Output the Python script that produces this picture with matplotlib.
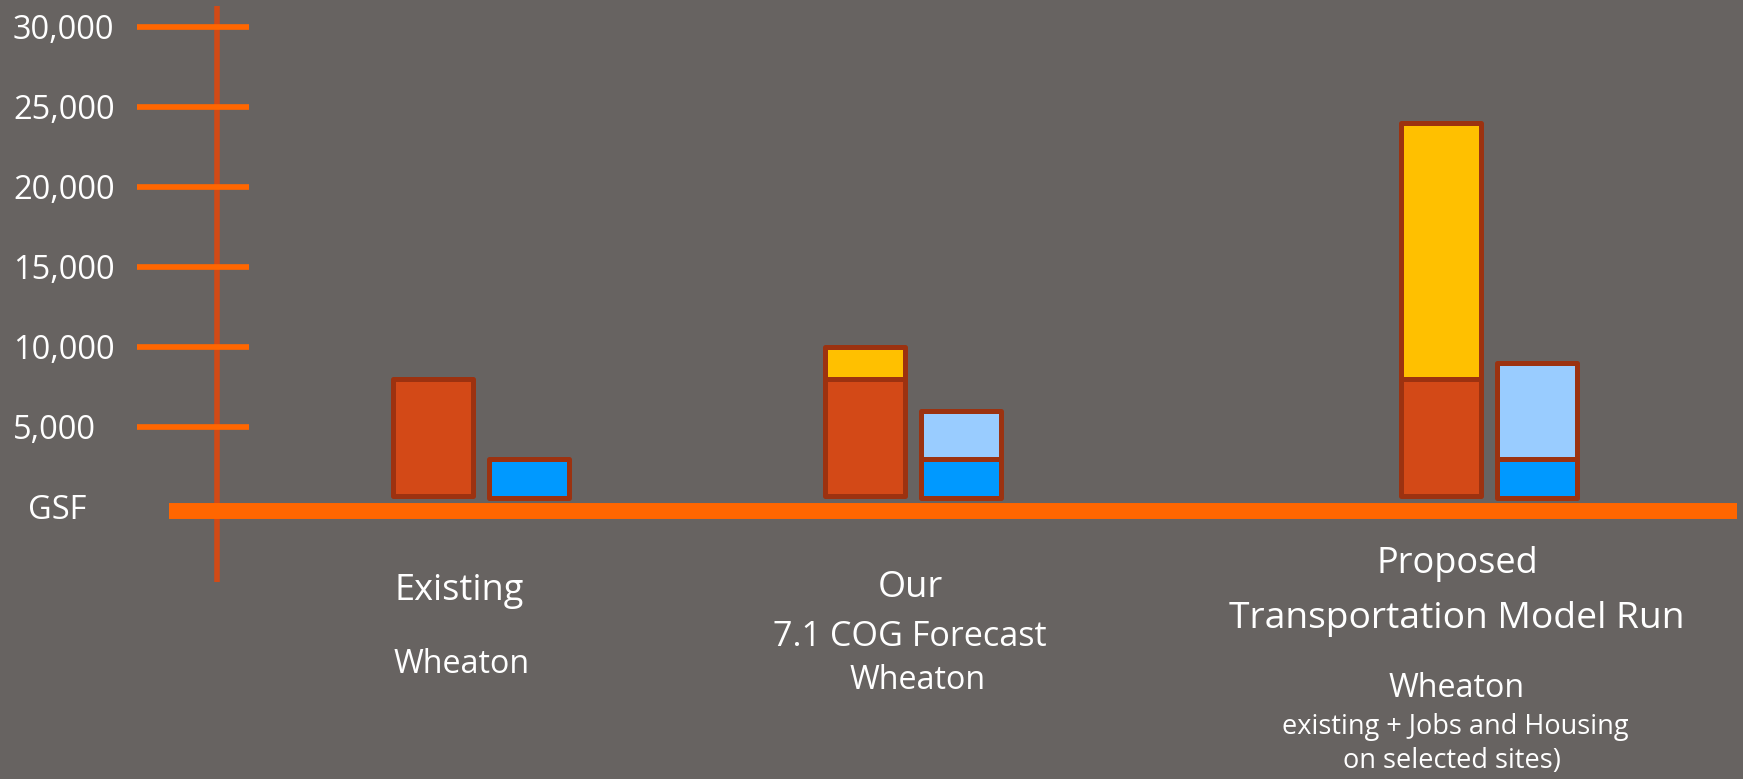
import matplotlib
matplotlib.use("Agg")
import matplotlib.pyplot as plt
from matplotlib.transforms import offset_copy

# ── Data ──────────────────────────────────────────────────────────────────────
group_pos = [0, 3, 7]                       # Existing, Our 7.1 COG, Proposed
jobs_existing = [8000, 8000, 8000]          # orange
jobs_total = [8000, 10000, 24000]           # top of yellow segment
housing_existing = [3000, 3000, 3000]       # blue
housing_total = [3000, 6000, 9000]          # top of light blue segment
bar_floor = [700, 580]                      # jobs / housing bars start just above the GSF line

y_ticks = [5000, 10000, 15000, 20000, 25000, 30000]
y_tick_labels = ["5,000", "10,000", "15,000", "20,000", "25,000", "30,000"]

# label lines: (text, x px, baseline px, size, align)
labels = [
    ("Existing", 394, 600, 26, "left"),
    ("Wheaton", 394, 673, 23.2, "left"),
    ("Our", 910, 597, 26, "center"),
    ("7.1 COG Forecast", 910, 646, 24.6, "center"),
    ("Wheaton", 918, 689, 23.2, "center"),
    ("Proposed", 1457, 573, 26, "center"),
    ("Transportation Model Run", 1457, 628, 26.8, "center"),
    ("Wheaton", 1457, 697, 23.2, "center"),
    ("existing + Jobs and Housing", 1455, 734, 19.5, "center"),
    ("on selected sites)", 1452, 768, 19.5, "center"),
]

# ── Style ─────────────────────────────────────────────────────────────────────
W, H = 1743, 779
BG = "#676361"
ORANGE = "#d34917"
YELLOW = "#ffc000"
BLUE = "#0099ff"
LIGHT_BLUE = "#99ccff"
EDGE = "#9c3210"
AXIS_ORANGE = "#ff6600"
AXIS_DARK = "#d24a16"

plt.rcParams["font.family"] = ["Open Sans", "DejaVu Sans"]

fig = plt.figure(figsize=(W / 100, H / 100), dpi=100, facecolor=BG)
ax = fig.add_axes([0, 0, 1, 1])
ax.set_facecolor(BG)
ax.set_axis_off()

# 1 x-unit = 144 px, group 0 at px 481; 5,000 GSF = 80 px, zero at px 507
ax.set_xlim(-481 / 144, (W - 481) / 144)
ax.set_ylim((507 - H) * 62.5, 507 * 62.5)

# ── Axis decorations ──────────────────────────────────────────────────────────
ytrans = ax.get_yaxis_transform()
ax.plot([216.5 / W, 216.5 / W], [1 - 6 / H, 1 - 582 / H], transform=ax.transAxes,
        color=AXIS_DARK, lw=4.0, solid_capstyle="butt", zorder=1)
ax.hlines(y_ticks, 137 / W, 249 / W, transform=ytrans, color=AXIS_ORANGE, lw=4.1, zorder=2)
ax.axhline(-250, xmin=169 / W, xmax=1737 / W, color=AXIS_ORANGE, lw=11.5,
           solid_capstyle="butt", zorder=2)

label_trans = offset_copy(ytrans, fig=fig, y=-12, units="dots")
for yt, lab in zip(y_ticks, y_tick_labels):
    ax.text(13 / W, yt, lab, transform=label_trans, ha="left", va="baseline",
            fontsize=23.5, color="white")
ax.text(57 / W, 0, "GSF", transform=label_trans, ha="center", va="baseline",
        fontsize=23.5, color="white")

# ── Bars ──────────────────────────────────────────────────────────────────────
width = 0.55
off = 1 / 3
bar_kw = dict(width=width, edgecolor=EDGE, linewidth=3.6, joinstyle="round", zorder=3)

x_jobs = [g - off for g in group_pos]
x_house = [g + off for g in group_pos]

ax.bar(x_jobs, [v - bar_floor[0] for v in jobs_existing], bottom=bar_floor[0], color=ORANGE, **bar_kw)
for x, lo, hi in zip(x_jobs, jobs_existing, jobs_total):
    if hi > lo:
        ax.bar(x, hi - lo, bottom=lo, color=YELLOW, **bar_kw)

ax.bar(x_house, [v - bar_floor[1] for v in housing_existing], bottom=bar_floor[1], color=BLUE, **bar_kw)
for x, lo, hi in zip(x_house, housing_existing, housing_total):
    if hi > lo:
        ax.bar(x, hi - lo, bottom=lo, color=LIGHT_BLUE, **bar_kw)

# ── Category labels ───────────────────────────────────────────────────────────
for text, px, py, size, align in labels:
    fig.text(px / W, 1 - py / H, text, ha=align, va="baseline", fontsize=size, color="white")

fig.savefig("out.png", dpi=100, facecolor=BG)
